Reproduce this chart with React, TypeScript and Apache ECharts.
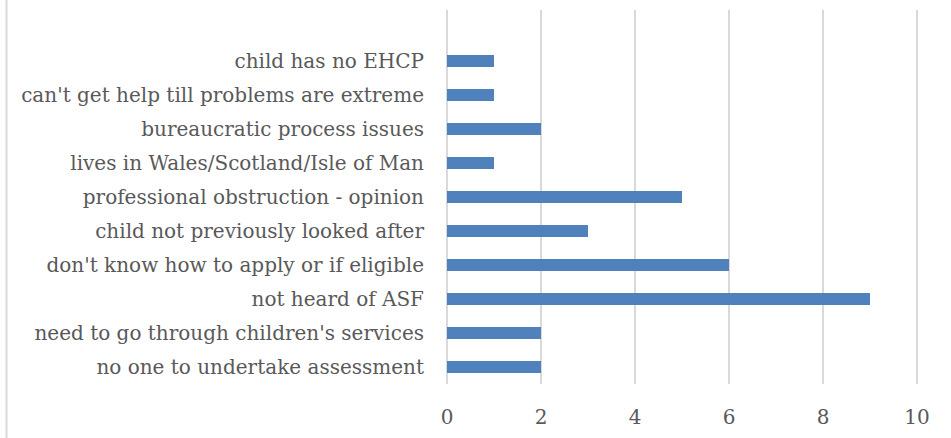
import React, { useEffect, useRef } from "react";
import * as echarts from "echarts";

const categories: string[] = [
  "no one to undertake assessment",
  "need to go through children's services",
  "not heard of ASF",
  "don't know how to apply or if eligible",
  "child not previously looked after",
  "professional obstruction - opinion",
  "lives in Wales/Scotland/Isle of Man",
  "bureaucratic process issues",
  "can't get help till problems are extreme",
  "child has no EHCP",
  "",
];
const values: (number | null)[] = [2, 2, 9, 6, 3, 5, 1, 2, 1, 1, null];
const xTicks = { min: 0, max: 10, interval: 2 };

const FONT = "DejaVu Serif";

export default function App() {
  const ref = useRef<HTMLDivElement>(null);
  useEffect(() => {
    if (!ref.current) return;
    const chart = echarts.init(ref.current, null, { renderer: "svg" });
    chart.setOption({
      animation: false,
      backgroundColor: "#ffffff",
      grid: { left: 447, right: 34, top: 10, bottom: 54, containLabel: false },
      xAxis: {
        type: "value",
        min: xTicks.min,
        max: xTicks.max,
        interval: xTicks.interval,
        axisLine: { show: false },
        axisTick: { show: false },
        splitLine: { show: true, lineStyle: { color: "#d9d9d9", width: 2 } },
        axisLabel: { color: "#595959", fontFamily: FONT, fontSize: 20, margin: 23 },
      },
      yAxis: {
        type: "category",
        data: categories,
        axisLine: { show: false },
        axisTick: { show: false },
        axisLabel: { color: "#595959", fontFamily: FONT, fontSize: 20, margin: 23 },
      },
      series: [
        {
          type: "bar",
          data: values,
          barCategoryGap: "65%",
          itemStyle: { color: "#4f81bd" },
        },
      ],
      graphic: [
        {
          type: "line",
          shape: { x1: 6.5, y1: 0, x2: 6.5, y2: 438 },
          style: { stroke: "#d9d9d9", lineWidth: 2 },
        },
      ],
    });
    return () => chart.dispose();
  }, []);
  return (
    <div
      ref={ref}
      style={{ position: "fixed", left: 0, top: 0, width: 951, height: 438 }}
    />
  );
}
